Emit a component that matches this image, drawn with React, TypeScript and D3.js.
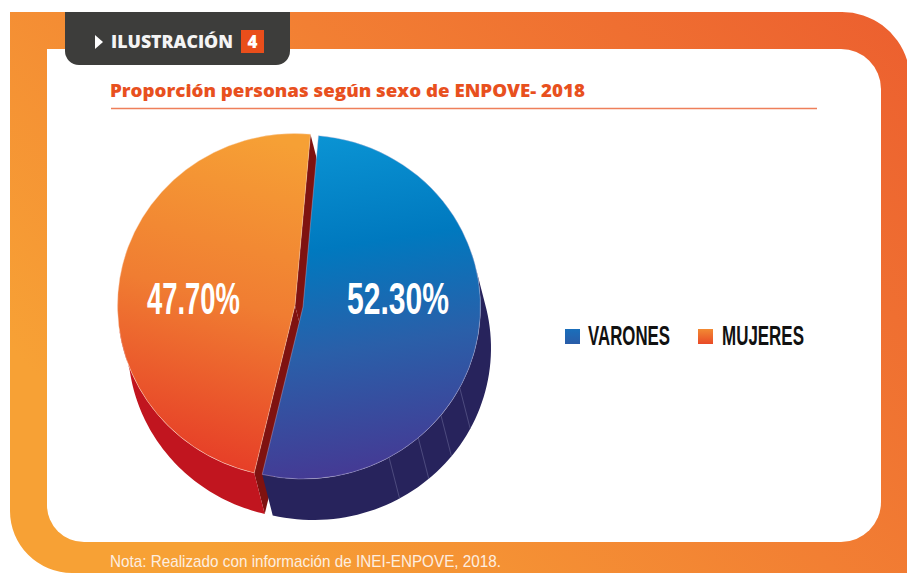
import { arc, pie, line, range } from "d3"

const categories = ["VARONES", "MUJERES"]
const shares = [52.3, 47.7]
const shareLabels = ["52.30%", "47.70%"]
// angles (degrees) of the faint facet lines on the blue side
const facetAngles = [151, 139.5, 129, 118]

const deg = Math.PI / 180
const rx = 177.5
const ry = 172
const centers: [number, number][] = [
  [303, 307],
  [295, 305.5],
]
const depth = [10.5, 41]

const slices = pie<number>().sort(null).startAngle(5 * deg).endAngle(365 * deg)(shares)
const wedge = arc<any>().innerRadius(0).outerRadius(ry)

const rim = (c: [number, number], a: number): [number, number] => [c[0] + rx * Math.sin(a), c[1] - ry * Math.cos(a)]
const shift = (p: [number, number]): [number, number] => [p[0] + depth[0], p[1] + depth[1]]
const path = line()

// side band swept along the extrusion between two angles
const band = (c: [number, number], a0: number, a1: number) => {
  const top = range(0, 61).map((i) => rim(c, a0 + ((a1 - a0) * i) / 60))
  return path([...top, ...top.slice().reverse().map(shift)]) + "Z"
}
const wall = (c: [number, number], a: number) => {
  const o = rim(c, a)
  return path([c, o, shift(o), shift(c)]) + "Z"
}

const sliceTransform = (i: number) => `translate(${centers[i][0]},${centers[i][1]}) scale(${rx / ry},1)`
const sans = "'Liberation Sans'"

export default function App() {
  const blue = slices[0]
  const orange = slices[1]
  return (
    <svg width={907} height={573} style={{ position: "absolute", left: 0, top: 0, display: "block" }}>
      <defs>
        <linearGradient id="frame" x1="0" y1="0.6" x2="1" y2="0">
          <stop offset="0" stopColor="#f7a135" />
          <stop offset="0.5" stopColor="#f27f33" />
          <stop offset="1" stopColor="#ec5f2f" />
        </linearGradient>
        <linearGradient id="blueFace" x1="0.35" y1="0" x2="0.45" y2="1">
          <stop offset="0" stopColor="#0a93d3" />
          <stop offset="0.32" stopColor="#0079bf" />
          <stop offset="0.62" stopColor="#2a5fa9" />
          <stop offset="1" stopColor="#463893" />
        </linearGradient>
        <linearGradient id="orangeFace" x1="0.7" y1="0" x2="0.55" y2="1">
          <stop offset="0" stopColor="#f6a035" />
          <stop offset="0.5" stopColor="#f07d32" />
          <stop offset="1" stopColor="#e63c27" />
        </linearGradient>
        <linearGradient id="blueKey" x1="0" y1="0" x2="0" y2="1">
          <stop offset="0" stopColor="#1a6fbb" />
          <stop offset="1" stopColor="#2a5ca8" />
        </linearGradient>
        <linearGradient id="orangeKey" x1="0" y1="0" x2="0" y2="1">
          <stop offset="0" stopColor="#f28a33" />
          <stop offset="1" stopColor="#e94a27" />
        </linearGradient>
      </defs>

      {/* frame */}
      <path
        d="M10,12 H842 A68,68 0 0 1 907,60 V573 H72 A62,62 0 0 1 10,511 Z"
        fill="url(#frame)"
      />
      <path
        d="M47,49 H841 A40,40 0 0 1 881,89 V502 A40,40 0 0 1 841,542 H84 A37,37 0 0 1 47,505 Z"
        fill="#fff"
      />

      {/* tab */}
      <path d="M65,12 H290 V51 A14,14 0 0 1 276,65 H79 A14,14 0 0 1 65,51 Z" fill="#3d3d3b" />
      <path d="M95,35 L103,42 L95,49 Z" fill="#fff" />
      <text x={111} y={48} fontFamily="'Open Sans'" fontWeight={800} fontSize={17} fill="#f4f4f4" textLength={122} lengthAdjust="spacingAndGlyphs">
        ILUSTRACIÓN
      </text>
      <rect x={241} y={30} width={23} height={23} fill="#e94e1b" />
      <text x={252.5} y={48} textAnchor="middle" fontFamily="'Open Sans'" fontWeight={800} fontSize={17} fill="#fff">
        4
      </text>

      {/* title */}
      <text x={110} y={96.5} fontFamily="'Open Sans'" fontWeight={800} fontSize={17.5} fill="#e8501e" textLength={475} lengthAdjust="spacingAndGlyphs">
        Proporción personas según sexo de ENPOVE- 2018
      </text>
      <line x1={111} x2={817} y1={108.5} y2={108.5} stroke="#ee7f5a" strokeWidth={1.4} />

      {/* pie walls and sides */}
      <path d={wall(centers[1], orange.startAngle)} fill="#7f1210" />
      <path d={wall(centers[1], orange.endAngle)} fill="#7f1210" />
      <path d={band(centers[1], orange.startAngle, 262 * deg)} fill="#c1151f" />
      <path d={band(centers[0], 75 * deg, blue.endAngle)} fill="#27235c" />
      {facetAngles.map((a) => {
        const p = rim(centers[0], a * deg)
        const q = shift(p)
        return <line key={a} x1={p[0]} y1={p[1]} x2={q[0]} y2={q[1]} stroke="#5d5b8c" strokeWidth={0.7} />
      })}

      {/* pie faces */}
      <path
        d={wedge(orange) as string}
        transform={sliceTransform(1)}
        fill="url(#orangeFace)"
        stroke="#fbd9c0"
        strokeWidth={0.4}
      />
      <path
        d={wedge(blue) as string}
        transform={sliceTransform(0)}
        fill="url(#blueFace)"
        stroke="#b9b5d8"
        strokeWidth={0.4}
      />

      <text x={347} y={314} fontFamily={sans} fontWeight={700} fontSize={44} fill="#fff" textLength={102} lengthAdjust="spacingAndGlyphs">
        {shareLabels[0]}
      </text>
      <text x={147} y={314} fontFamily={sans} fontWeight={700} fontSize={44} fill="#fff" textLength={93} lengthAdjust="spacingAndGlyphs">
        {shareLabels[1]}
      </text>

      {/* legend */}
      <rect x={565} y={329} width={15} height={15} fill="url(#blueKey)" />
      <text x={588} y={345} fontFamily={sans} fontWeight={700} fontSize={27} fill="#111" textLength={82} lengthAdjust="spacingAndGlyphs">
        {categories[0]}
      </text>
      <rect x={698} y={329} width={15} height={15} fill="url(#orangeKey)" />
      <text x={722} y={345} fontFamily={sans} fontWeight={700} fontSize={27} fill="#111" textLength={82} lengthAdjust="spacingAndGlyphs">
        {categories[1]}
      </text>

      {/* note */}
      <text x={110} y={567} fontFamily={sans} fontSize={17} fill="#fdeee0" textLength={391} lengthAdjust="spacingAndGlyphs">
        Nota: Realizado con información de INEI-ENPOVE, 2018.
      </text>
    </svg>
  )
}
